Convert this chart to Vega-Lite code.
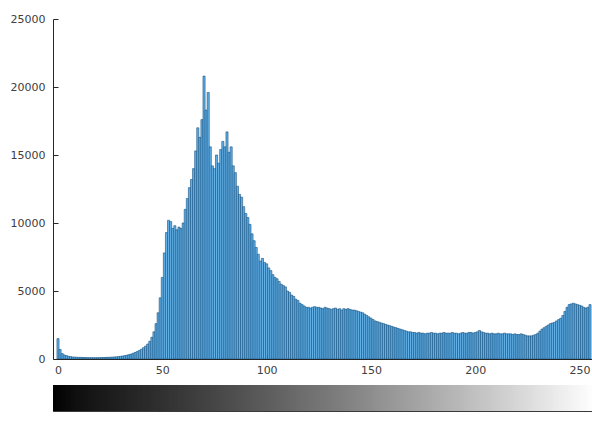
{
  "$schema": "https://vega.github.io/schema/vega-lite/v6.json",
  "padding": {"left": 10, "top": 13, "right": 0, "bottom": 0},
  "background": "white",
  "config": {
    "view": {"stroke": null},
    "axis": {
      "labelFont": "DejaVu Sans",
      "labelFontSize": 11,
      "labelColor": "#404040",
      "domainColor": "#262626",
      "tickColor": "#262626",
      "grid": false,
      "title": null,
      "format": "d"
    }
  },
  "bounds": "flush",
  "spacing": 26,
  "datasets": {
    "h": [
{"v":0,"c":1500},{"v":1,"c":700},{"v":2,"c":400},{"v":3,"c":300},{"v":4,"c":250},{"v":5,"c":200},{"v":6,"c":180},{"v":7,"c":150},{"v":8,"c":140},{"v":9,"c":130},
{"v":10,"c":120},{"v":11,"c":120},{"v":12,"c":110},{"v":13,"c":110},{"v":14,"c":100},{"v":15,"c":100},{"v":16,"c":100},{"v":17,"c":100},{"v":18,"c":100},{"v":19,"c":100},
{"v":20,"c":100},{"v":21,"c":110},{"v":22,"c":110},{"v":23,"c":120},{"v":24,"c":120},{"v":25,"c":130},{"v":26,"c":140},{"v":27,"c":150},{"v":28,"c":160},{"v":29,"c":180},
{"v":30,"c":200},{"v":31,"c":220},{"v":32,"c":250},{"v":33,"c":280},{"v":34,"c":320},{"v":35,"c":360},{"v":36,"c":420},{"v":37,"c":480},{"v":38,"c":550},{"v":39,"c":630},
{"v":40,"c":720},{"v":41,"c":830},{"v":42,"c":950},{"v":43,"c":1100},{"v":44,"c":1300},{"v":45,"c":1600},{"v":46,"c":2000},{"v":47,"c":2600},{"v":48,"c":3400},{"v":49,"c":4500},
{"v":50,"c":6000},{"v":51,"c":7800},{"v":52,"c":9300},{"v":53,"c":10200},{"v":54,"c":10100},{"v":55,"c":9600},{"v":56,"c":9800},{"v":57,"c":9500},{"v":58,"c":9700},{"v":59,"c":9600},
{"v":60,"c":10000},{"v":61,"c":11000},{"v":62,"c":11800},{"v":63,"c":12600},{"v":64,"c":13200},{"v":65,"c":14000},{"v":66,"c":15300},{"v":67,"c":17000},{"v":68,"c":16300},{"v":69,"c":17600},
{"v":70,"c":20800},{"v":71,"c":18300},{"v":72,"c":19600},{"v":73,"c":15600},{"v":74,"c":14200},{"v":75,"c":14000},{"v":76,"c":15000},{"v":77,"c":14400},{"v":78,"c":15400},{"v":79,"c":16000},
{"v":80,"c":15600},{"v":81,"c":16700},{"v":82,"c":15200},{"v":83,"c":15600},{"v":84,"c":14200},{"v":85,"c":13700},{"v":86,"c":12700},{"v":87,"c":12100},{"v":88,"c":11900},{"v":89,"c":11200},
{"v":90,"c":10700},{"v":91,"c":10400},{"v":92,"c":9900},{"v":93,"c":9200},{"v":94,"c":8700},{"v":95,"c":8200},{"v":96,"c":7700},{"v":97,"c":7200},{"v":98,"c":7400},{"v":99,"c":7100},
{"v":100,"c":7000},{"v":101,"c":6700},{"v":102,"c":6500},{"v":103,"c":6200},{"v":104,"c":6000},{"v":105,"c":5900},{"v":106,"c":5700},{"v":107,"c":5500},{"v":108,"c":5400},{"v":109,"c":5300},
{"v":110,"c":5000},{"v":111,"c":4900},{"v":112,"c":4700},{"v":113,"c":4600},{"v":114,"c":4400},{"v":115,"c":4300},{"v":116,"c":4100},{"v":117,"c":4000},{"v":118,"c":3900},{"v":119,"c":3800},
{"v":120,"c":3800},{"v":121,"c":3750},{"v":122,"c":3800},{"v":123,"c":3850},{"v":124,"c":3800},{"v":125,"c":3800},{"v":126,"c":3750},{"v":127,"c":3700},{"v":128,"c":3800},{"v":129,"c":3750},
{"v":130,"c":3700},{"v":131,"c":3650},{"v":132,"c":3700},{"v":133,"c":3750},{"v":134,"c":3650},{"v":135,"c":3700},{"v":136,"c":3600},{"v":137,"c":3700},{"v":138,"c":3650},{"v":139,"c":3700},
{"v":140,"c":3650},{"v":141,"c":3600},{"v":142,"c":3600},{"v":143,"c":3550},{"v":144,"c":3500},{"v":145,"c":3450},{"v":146,"c":3400},{"v":147,"c":3300},{"v":148,"c":3200},{"v":149,"c":3100},
{"v":150,"c":3000},{"v":151,"c":2900},{"v":152,"c":2800},{"v":153,"c":2750},{"v":154,"c":2700},{"v":155,"c":2650},{"v":156,"c":2600},{"v":157,"c":2550},{"v":158,"c":2500},{"v":159,"c":2450},
{"v":160,"c":2400},{"v":161,"c":2350},{"v":162,"c":2300},{"v":163,"c":2250},{"v":164,"c":2200},{"v":165,"c":2150},{"v":166,"c":2100},{"v":167,"c":2050},{"v":168,"c":2000},{"v":169,"c":2000},
{"v":170,"c":1950},{"v":171,"c":1950},{"v":172,"c":1900},{"v":173,"c":1950},{"v":174,"c":1900},{"v":175,"c":1900},{"v":176,"c":1850},{"v":177,"c":1900},{"v":178,"c":1900},{"v":179,"c":1950},
{"v":180,"c":1900},{"v":181,"c":1900},{"v":182,"c":1850},{"v":183,"c":1900},{"v":184,"c":1900},{"v":185,"c":1950},{"v":186,"c":1900},{"v":187,"c":1900},{"v":188,"c":1900},{"v":189,"c":1950},
{"v":190,"c":1900},{"v":191,"c":1900},{"v":192,"c":1850},{"v":193,"c":1900},{"v":194,"c":1950},{"v":195,"c":1900},{"v":196,"c":1900},{"v":197,"c":1950},{"v":198,"c":1950},{"v":199,"c":1900},
{"v":200,"c":1950},{"v":201,"c":2000},{"v":202,"c":2100},{"v":203,"c":2000},{"v":204,"c":1950},{"v":205,"c":1900},{"v":206,"c":1900},{"v":207,"c":1850},{"v":208,"c":1900},{"v":209,"c":1850},
{"v":210,"c":1850},{"v":211,"c":1900},{"v":212,"c":1850},{"v":213,"c":1850},{"v":214,"c":1900},{"v":215,"c":1850},{"v":216,"c":1850},{"v":217,"c":1850},{"v":218,"c":1800},{"v":219,"c":1850},
{"v":220,"c":1800},{"v":221,"c":1800},{"v":222,"c":1850},{"v":223,"c":1800},{"v":224,"c":1750},{"v":225,"c":1700},{"v":226,"c":1700},{"v":227,"c":1700},{"v":228,"c":1750},{"v":229,"c":1800},
{"v":230,"c":1900},{"v":231,"c":2050},{"v":232,"c":2200},{"v":233,"c":2300},{"v":234,"c":2400},{"v":235,"c":2500},{"v":236,"c":2600},{"v":237,"c":2650},{"v":238,"c":2700},{"v":239,"c":2800},
{"v":240,"c":2900},{"v":241,"c":3000},{"v":242,"c":3200},{"v":243,"c":3500},{"v":244,"c":3800},{"v":245,"c":4000},{"v":246,"c":4050},{"v":247,"c":4100},{"v":248,"c":4050},{"v":249,"c":4000},
{"v":250,"c":3950},{"v":251,"c":3900},{"v":252,"c":3800},{"v":253,"c":3750},{"v":254,"c":3800},{"v":255,"c":4000}
    ]
  },
  "vconcat": [
    {
      "width": 542,
      "height": 340,
      "data": {"name": "h"},
      "mark": {"type": "bar", "width": 2.1, "fill": "#62b0e6", "stroke": "#14507f", "strokeWidth": 0.6, "clip": true},
      "encoding": {
        "x": {
          "field": "v", "type": "quantitative",
          "scale": {"domain": [0, 255], "nice": false, "zero": false},
          "axis": {"values": [0, 50, 100, 150, 200, 250], "tickSize": -5, "labelPadding": 10, "labelFlush": false}
        },
        "y": {
          "field": "c", "type": "quantitative",
          "scale": {"domain": [0, 25000], "nice": false},
          "axis": {"values": [0, 5000, 10000, 15000, 20000, 25000], "tickSize": -5, "labelPadding": 13}
        }
      }
    },
    {
      "width": 542,
      "height": 26,
      "view": {"stroke": "#3a3a3a", "strokeWidth": 1},
      "data": {"name": "h"},
      "mark": {"type": "rule", "strokeWidth": 3, "clip": true},
      "encoding": {
        "x": {
          "field": "v", "type": "quantitative",
          "scale": {"domain": [0, 255], "nice": false, "zero": false},
          "axis": {"values": [0, 50, 100, 150, 200, 250], "tickSize": -4, "labels": false, "domain": false}
        },
        "color": {
          "field": "v", "type": "quantitative",
          "scale": {"domain": [0, 255], "range": ["#000000", "#ffffff"]},
          "legend": null
        }
      }
    }
  ]
}
